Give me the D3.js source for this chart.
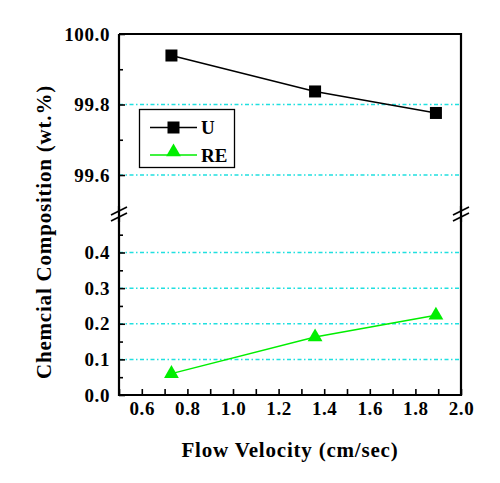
<!DOCTYPE html>
<html><head><meta charset="utf-8">
<script src="https://cdn.jsdelivr.net/npm/d3@7"></script>
<style>
body{margin:0;background:#fff;}
</style></head>
<body><svg id="c" width="500" height="483"></svg>
<script>
const velocity = [0.73, 1.36, 1.89];
const uValues = [99.939, 99.837, 99.776];
const reValues = [0.06, 0.163, 0.224];
const seriesNames = ["U", "RE"];
const xTicks = [0.6, 0.8, 1.0, 1.2, 1.4, 1.6, 1.8, 2.0];
const xMinor = [0.5, 0.7, 0.9, 1.1, 1.3, 1.5, 1.7, 1.9];
const yTopTicks = [99.6, 99.8, 100.0];
const yTopMinor = [99.7, 99.9];
const yBotTicks = [0.0, 0.1, 0.2, 0.3, 0.4];
const yBotMinor = [0.05, 0.15, 0.25, 0.35, 0.45];
const gridTop = [99.6, 99.8];
const gridBot = [0.1, 0.2, 0.3, 0.4];

const FONT = "'Liberation Serif', 'Times New Roman', 'DejaVu Serif', serif";
const svg = d3.select("#c");
const L = 119, R = 461, T = 34, B = 395, BRK = 214;
const x = d3.scaleLinear().domain([0.5, 2.0]).range([L, R]);
const yTop = d3.scaleLinear().domain([99.6, 100.0]).range([175, T]);
const yBot = d3.scaleLinear().domain([0, 0.4]).range([B, 252.5]);

const grid = svg.append("g").attr("stroke", "#20e0e0").attr("stroke-width", 1.5)
  .attr("stroke-dasharray", "4,2.5,1.5,2.5");
grid.selectAll(".gt").data(gridTop).join("line")
  .attr("x1", L).attr("x2", R).attr("y1", d => yTop(d)).attr("y2", d => yTop(d));
grid.selectAll(".gb").data(gridBot).join("line")
  .attr("x1", L).attr("x2", R).attr("y1", d => yBot(d)).attr("y2", d => yBot(d));

function styleAxis(g){
  g.attr("font-family", FONT);
  g.select(".domain").remove();
  g.selectAll(".tick line").attr("stroke", "#000").attr("stroke-width", 1.6);
  g.selectAll("text").style("font-size", "19px").style("letter-spacing", "0.6px");
}
svg.append("g").attr("transform", `translate(${L},0)`)
  .call(d3.axisLeft(yTop).tickValues(yTopTicks).tickFormat(d3.format(".1f")).tickSizeInner(-6).tickSizeOuter(0).tickPadding(9))
  .call(styleAxis);
svg.append("g").attr("transform", `translate(${L},0)`)
  .call(d3.axisLeft(yTop).tickValues(yTopMinor).tickFormat("").tickSizeInner(-4).tickSizeOuter(0))
  .call(styleAxis);
svg.append("g").attr("transform", `translate(${L},0)`)
  .call(d3.axisLeft(yBot).tickValues(yBotTicks).tickFormat(d3.format(".1f")).tickSizeInner(-6).tickSizeOuter(0).tickPadding(9))
  .call(styleAxis);
svg.append("g").attr("transform", `translate(${L},0)`)
  .call(d3.axisLeft(yBot).tickValues(yBotMinor).tickFormat("").tickSizeInner(-4).tickSizeOuter(0))
  .call(styleAxis);
svg.append("g").attr("transform", `translate(0,${B})`)
  .call(d3.axisBottom(x).tickValues(xTicks).tickFormat(d3.format(".1f")).tickSizeInner(-6).tickSizeOuter(0).tickPadding(7))
  .call(styleAxis);
svg.append("g").attr("transform", `translate(0,${B})`)
  .call(d3.axisBottom(x).tickValues(xMinor).tickFormat("").tickSizeInner(-6).tickSizeOuter(0))
  .call(styleAxis);

svg.append("path").attr("fill", "none").attr("stroke", "#000").attr("stroke-width", 2.2)
  .attr("d", `M${L},${T}V${B}H${R}V${T}H${L}`);

[L, R].forEach(bx => {
  const g = svg.append("g");
  g.append("polygon").attr("fill", "#fff")
    .attr("points", `${bx-8},${BRK+2} ${bx+8},${BRK-6} ${bx+8},${BRK-1} ${bx-8},${BRK+7}`);
  g.append("line").attr("x1", bx).attr("x2", bx).attr("y1", BRK-8).attr("y2", BRK+8)
    .attr("stroke", "#000").attr("stroke-width", 2.2);
  [-3, 3].forEach(o => g.append("line").attr("stroke", "#000").attr("stroke-width", 1.6)
    .attr("x1", bx-8).attr("y1", BRK+o+4).attr("x2", bx+8).attr("y2", BRK+o-4));
});

const lineU = d3.line().x((d, i) => x(velocity[i])).y(d => yTop(d));
svg.append("path").datum(uValues).attr("fill", "none").attr("stroke", "#000").attr("stroke-width", 1.5).attr("d", lineU);
svg.selectAll(".mu").data(uValues).join("rect")
  .attr("x", (d, i) => x(velocity[i]) - 6).attr("y", d => yTop(d) - 6)
  .attr("width", 12).attr("height", 12).attr("fill", "#000");

const green = "#00ee00";
const lineR = d3.line().x((d, i) => x(velocity[i])).y(d => yBot(d));
svg.append("path").datum(reValues).attr("fill", "none").attr("stroke", green).attr("stroke-width", 1.5).attr("d", lineR);
const tri = d3.symbol().type(d3.symbolTriangle).size(95);
svg.selectAll(".mr").data(reValues).join("path")
  .attr("transform", (d, i) => `translate(${x(velocity[i])},${yBot(d)})`)
  .attr("d", tri).attr("fill", green);

const lg = svg.append("g");
lg.append("rect").attr("x", 139.5).attr("y", 109.5).attr("width", 95).attr("height", 58)
  .attr("fill", "#fff").attr("stroke", "#000").attr("stroke-width", 1.3);
lg.append("line").attr("x1", 150).attr("x2", 197).attr("y1", 127.5).attr("y2", 127.5).attr("stroke", "#000").attr("stroke-width", 1.5);
lg.append("rect").attr("x", 167.5).attr("y", 121.5).attr("width", 12).attr("height", 12).attr("fill", "#000");
lg.append("text").attr("x", 201).attr("y", 134).style("font-size", "19px").text(seriesNames[0]);
lg.append("line").attr("x1", 150).attr("x2", 197).attr("y1", 155).attr("y2", 155).attr("stroke", green).attr("stroke-width", 1.5);
lg.append("path").attr("transform", "translate(173.5,152)").attr("d", tri).attr("fill", green);
lg.append("text").attr("x", 201).attr("y", 162).style("font-size", "19px").text(seriesNames[1]);

svg.append("text").attr("class", "title").attr("x", 290).attr("y", 457).attr("text-anchor", "middle").style("font-size", "21px")
  .text("Flow Velocity (cm/sec)");
svg.append("text").attr("class", "title").attr("transform", "translate(51,232) rotate(-90)").attr("text-anchor", "middle").style("font-size", "21px")
  .text("Chemcial Composition (wt.%)");

svg.selectAll("text").style("font-family", FONT).style("font-weight", "bold").attr("fill", "#000");
svg.selectAll("text.title").style("letter-spacing", "0.8px");
</script></body></html>
